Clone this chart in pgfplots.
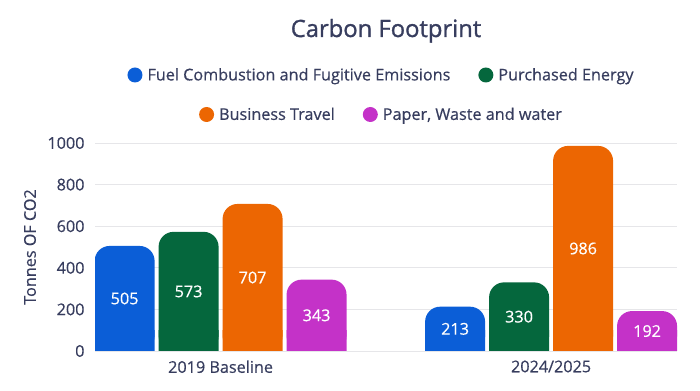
\documentclass[border=0pt]{standalone}
\usepackage{pgfplots}
\pgfplotsset{compat=1.18}
\usepackage{pgfplotstable}
\usepackage{fontspec}
\setmainfont{Open Sans}[FakeBold=0.5]
\newfontfamily\titlefont{Open Sans}[FakeBold=1.2]
\definecolor{cblue}{RGB}{11,94,215}
\definecolor{cgreen}{RGB}{5,103,61}
\definecolor{corange}{RGB}{236,102,2}
\definecolor{cpurple}{RGB}{196,50,200}
\definecolor{ctext}{RGB}{55,61,94}
\definecolor{cgrid}{RGB}{230,230,233}

\pgfplotstableread{
x fuel energy travel paper
0 505 573 707 343
1 213 330 986 192
}\data

\newcommand\fs{\fontsize{16.2bp}{19bp}\selectfont}

\pgfplotsset{
  cbar/.style args={#1/#2}{ybar, bar width=0.1815, bar shift=#2, fill=#1, draw=none, forget plot},
  clab/.style={only marks, mark=*, mark size=0pt, mark options={draw=none,fill=none},
    scatter/use mapped color={draw=none,fill=none},
    nodes near coords, point meta=explicit,
    nodes near coords style={anchor=center, text=white, font=\fs}, forget plot},
  dot legend/.style={legend image code/.code={\path[##1, draw=none] (0bp,0bp) circle[radius=7.5bp];}},
}

\begin{document}
\begin{tikzpicture}
\useasboundingbox (0,0) rectangle (700bp,391bp);
\begin{axis}[
  at={(95bp,40bp)}, anchor=south west,
  scale only axis, width=582bp, height=208bp,
  xmin=-0.38, xmax=1.381, ymin=0, ymax=1000,
  axis line style={draw=none}, major tick length=0pt,
  ytick={0,200,...,1000}, ymajorgrids, grid style={cgrid, line width=0.8bp},
  yticklabel style={/pgf/number format/1000 sep={}},
  xtick={0,1}, xticklabels={2019 Baseline, 2024/2025},
  tick label style={font=\fs, text=ctext},
  /pgf/number format/assume math mode=true,
  yticklabel style={xshift=-7bp},
  xticklabel style={yshift=-6bp},
  ylabel={Tonnes OF CO2},
  every axis y label/.style={at={(axis description cs:0,0.5)}, xshift=-65bp, rotate=90, anchor=center, font=\fs, text=ctext},
  title={Carbon Footprint},
  every axis title/.style={font=\titlefont\fontsize{23.8bp}{28bp}\selectfont, text=ctext, at={(axis description cs:0.5,1)}, anchor=base, yshift=106bp},
  dot legend,
  legend columns=-1,
  legend style={at={(axis description cs:0.5,1)}, anchor=center, xshift=-4.5bp, yshift=68bp, draw=none, fill=none, font=\fs,
    nodes={text=ctext},
    /tikz/every odd column/.append style={column sep=3bp},
    /tikz/every even column/.append style={column sep=26bp}},
]
\addlegendimage{fill=cblue}\addlegendentry{Fuel Combustion and Fugitive Emissions}
\addlegendimage{fill=cgreen}\addlegendentry{Purchased Energy}

\addplot[cbar=cblue/-0.2904, rounded corners=15bp] table[x=x,y=fuel]{\data};
\addplot[cbar=cblue/-0.2904] table[x=x,y expr={min(\thisrow{fuel},100)}]{\data};
\addplot[cbar=cgreen/-0.0968, rounded corners=15bp] table[x=x,y=energy]{\data};
\addplot[cbar=cgreen/-0.0968] table[x=x,y expr={min(\thisrow{energy},100)}]{\data};
\addplot[cbar=corange/0.0968, rounded corners=15bp] table[x=x,y=travel]{\data};
\addplot[cbar=corange/0.0968] table[x=x,y expr={min(\thisrow{travel},100)}]{\data};
\addplot[cbar=cpurple/0.2904, rounded corners=15bp] table[x=x,y=paper]{\data};
\addplot[cbar=cpurple/0.2904] table[x=x,y expr={min(\thisrow{paper},100)}]{\data};

\addplot[clab] table[x expr=\thisrow{x}-0.2904, y expr=\thisrow{fuel}/2, meta=fuel]{\data};
\addplot[clab] table[x expr=\thisrow{x}-0.0968, y expr=\thisrow{energy}/2, meta=energy]{\data};
\addplot[clab] table[x expr=\thisrow{x}+0.0968, y expr=\thisrow{travel}/2, meta=travel]{\data};
\addplot[clab] table[x expr=\thisrow{x}+0.2904, y expr=\thisrow{paper}/2, meta=paper]{\data};
\end{axis}
\begin{axis}[
  at={(95bp,40bp)}, anchor=south west,
  scale only axis, width=582bp, height=208bp,
  hide axis, xmin=0, xmax=1, ymin=0, ymax=1,
  dot legend,
  legend columns=-1,
  legend style={at={(axis description cs:0.5,1)}, anchor=center, xshift=-4.5bp, yshift=28.5bp, draw=none, fill=none, font=\fs,
    nodes={text=ctext},
    /tikz/every odd column/.append style={column sep=3bp},
    /tikz/every even column/.append style={column sep=26bp}},
]
\addlegendimage{fill=corange}\addlegendentry{Business Travel}
\addlegendimage{fill=cpurple}\addlegendentry{Paper, Waste and water}
\end{axis}
\end{tikzpicture}
\end{document}
